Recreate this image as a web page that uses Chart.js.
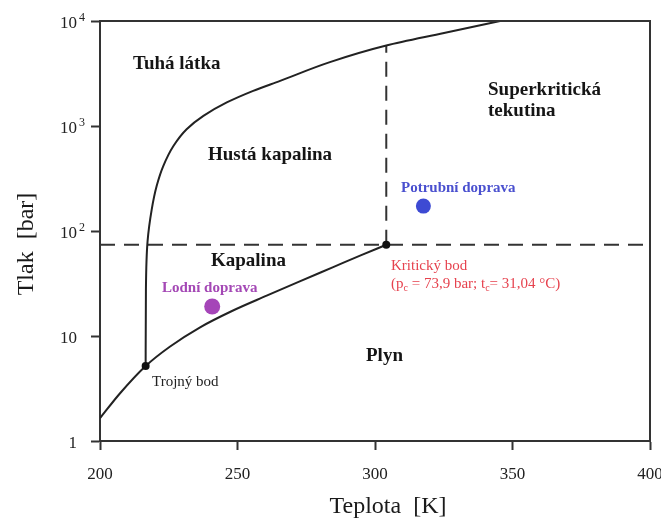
<!DOCTYPE html>
<html>
<head>
<meta charset="utf-8">
<script src="https://cdn.jsdelivr.net/npm/chart.js@4.4.0/dist/chart.umd.min.js"></script>
<style>
  html, body { margin: 0; padding: 0; background: #fff; }
  #wrap { width: 661px; height: 521px; }
</style>
</head>
<body>
<div id="wrap"><canvas id="phase" width="661" height="521"></canvas></div>
<script>
// Osy
const xTicks = [200, 250, 300, 350, 400];
const yTicks = [1, 10, 100, 1000, 10000];
const yTickBase = ['1', '10', '10', '10', '10'];
const yTickExp = ['', '', '2', '3', '4'];

// Křivka sublimace + vypařování (od 200 K ke kritickému bodu)
const vaporT = [200, 207.3, 216.6, 225.5, 236.4, 248, 260.6, 272, 284.8, 295, 304.1];
const vaporP = [1.65, 2.85, 5.18, 7.95, 12.1, 17.3, 24.2, 32.6, 45.3, 58.9, 73.9];

// Křivka tání (od trojného bodu nahoru)
const meltT = [216.6, 216.7, 217.3, 218.8, 220.6, 223.0, 226.7, 231.5, 237.6, 246.1, 255.7, 265.5, 283.6, 304.1, 325.1, 345.5];
const meltP = [5.18, 27.7, 80, 160, 268, 415, 645, 931, 1247, 1675, 2161, 2692, 4061, 5840, 7680, 10000];

// Kritický bod a hranice superkritické oblasti
const critT = 304.1;
const critP = 73.9;
const critTopP = 5840;

// Body v grafu
const pointNames = ['Trojný bod', 'Kritický bod', 'Lodní doprava', 'Potrubní doprava'];
const pointT = [216.6, 304.1, 240.8, 317.6];
const pointP = [5.18, 73.9, 19.1, 172.6];

const serif = "'Liberation Serif', 'Times New Roman', serif";
const pointColors = ['#111', '#111', '#a545b8', '#3d4ad3'];
const pointSizes = [4, 4, 8, 7.5];

const toXY = (xs, ys) => xs.map((x, i) => ({ x: x, y: ys[i] }));

// Popisky oblastí (pixely)
const labels = [
    { text: 'Tuhá látka', x: 133, y: 69, bold: true, size: 19, color: '#151515' },
    { text: 'Hustá kapalina', x: 208, y: 160, bold: true, size: 19, color: '#151515' },
    { text: 'Superkritická', x: 488, y: 95, bold: true, size: 19, color: '#151515' },
    { text: 'tekutina', x: 488, y: 116, bold: true, size: 19, color: '#151515' },
    { text: 'Kapalina', x: 211, y: 266, bold: true, size: 19, color: '#151515' },
    { text: 'Plyn', x: 366, y: 361, bold: true, size: 19, color: '#151515' },
    { text: 'Potrubní doprava', x: 401, y: 192, bold: true, size: 15, color: '#4a50cf' },
    { text: 'Lodní doprava', x: 162, y: 292, bold: true, size: 15, color: '#a448b5' },
    { text: 'Trojný bod', x: 152, y: 386, bold: false, size: 15, color: '#222' },
    { text: 'Kritický bod', x: 391, y: 270, bold: false, size: 15, color: '#e6424e' }
];

const textPlugin = {
    id: 'texts',
    afterDraw(chart) {
        const ctx = chart.ctx;
        const a = chart.chartArea;
        const ys = chart.scales.y;

        // rámeček nahoře a vpravo
        ctx.save();
        ctx.strokeStyle = '#333';
        ctx.lineWidth = 2;
        ctx.beginPath();
        ctx.moveTo(a.left, a.top);
        ctx.lineTo(a.right, a.top);
        ctx.lineTo(a.right, a.bottom);
        ctx.stroke();

        // popisky osy y s exponenty
        ctx.fillStyle = '#222';
        ctx.textBaseline = 'middle';
        yTicks.forEach((v, i) => {
            const py = ys.getPixelForValue(v);
            ctx.font = '17px ' + serif;
            ctx.textAlign = 'right';
            ctx.fillText(yTickBase[i], 77, py + 3);
            if (yTickExp[i]) {
                ctx.font = '12px ' + serif;
                ctx.textAlign = 'left';
                ctx.fillText(yTickExp[i], 79, py - 3);
            }
        });

        // názvy os
        ctx.textBaseline = 'alphabetic';
        ctx.textAlign = 'center';
        ctx.font = '24px ' + serif;
        ctx.fillStyle = '#1a1a1a';
        ctx.fillText('Teplota  [K]', 388, 513);
        ctx.save();
        ctx.translate(33, 244);
        ctx.rotate(-Math.PI / 2);
        ctx.fillText('Tlak  [bar]', 0, 0);
        ctx.restore();

        // popisky oblastí
        ctx.textAlign = 'left';
        labels.forEach(l => {
            ctx.font = (l.bold ? 'bold ' : '') + l.size + 'px ' + serif;
            ctx.fillStyle = l.color;
            ctx.fillText(l.text, l.x, l.y);
        });

        // (pc = 73,9 bar; tc= 31,04 °C) s dolními indexy
        const parts = [
            ['(p', false], ['c', true], [' = 73,9 bar; t', false], ['c', true], ['= 31,04 °C)', false]
        ];
        let x = 391;
        ctx.fillStyle = '#e6424e';
        parts.forEach(p => {
            ctx.font = (p[1] ? '10px ' : '15px ') + serif;
            ctx.fillText(p[0], x, p[1] ? 291 : 288);
            x += ctx.measureText(p[0]).width;
        });
        ctx.restore();
    }
};

const lineStyle = {
    showLine: true,
    borderColor: '#222',
    borderWidth: 2,
    pointRadius: 0,
    cubicInterpolationMode: 'monotone',
    fill: false
};

new Chart(document.getElementById('phase'), {
    type: 'scatter',
    data: {
        datasets: [
            {
                label: 'Body',
                data: toXY(pointT, pointP),
                pointRadius: pointSizes,
                pointBackgroundColor: pointColors,
                pointBorderWidth: 0,
                showLine: false
            },
            Object.assign({ label: 'Vypařování', data: toXY(vaporT, vaporP) }, lineStyle),
            Object.assign({ label: 'Tání', data: toXY(meltT, meltP), indexAxis: 'y' }, lineStyle),
            {
                label: 'Kritický tlak',
                data: toXY([xTicks[0], xTicks[xTicks.length - 1]], [critP, critP]),
                showLine: true, borderColor: '#333', borderWidth: 2, borderDash: [15, 9], pointRadius: 0
            },
            {
                label: 'Kritická teplota',
                data: toXY([critT, critT], [critP, critTopP]),
                showLine: true, borderColor: '#333', borderWidth: 2, borderDash: [15, 9], pointRadius: 0
            }
        ]
    },
    options: {
        responsive: false,
        devicePixelRatio: 1,
        animation: false,
        layout: { padding: { top: 21, right: 11, left: 0, bottom: 0 } },
        plugins: { legend: { display: false }, tooltip: { enabled: false } },
        events: [],
        scales: {
            x: {
                type: 'linear',
                min: 200,
                max: 400,
                afterBuildTicks: s => { s.ticks = xTicks.map(v => ({ value: v })); },
                afterFit: s => { s.height = 80; s.paddingLeft = 0; s.paddingRight = 0; },
                ticks: {
                    font: { family: serif, size: 17 },
                    color: '#222',
                    padding: 14,
                    maxRotation: 0,
                    autoSkip: false
                },
                grid: { drawOnChartArea: false, tickLength: 9, tickColor: '#333', tickWidth: 2 },
                border: { color: '#333', width: 2 }
            },
            y: {
                type: 'logarithmic',
                min: 1,
                max: 10000,
                afterBuildTicks: s => { s.ticks = yTicks.map(v => ({ value: v })); },
                afterFit: s => { s.width = 100; s.paddingTop = 0; s.paddingBottom = 0; },
                ticks: { display: false },
                grid: { drawOnChartArea: false, tickLength: 9, tickColor: '#333', tickWidth: 2 },
                border: { color: '#333', width: 2 }
            }
        }
    },
    plugins: [textPlugin]
});
</script>
</body>
</html>
